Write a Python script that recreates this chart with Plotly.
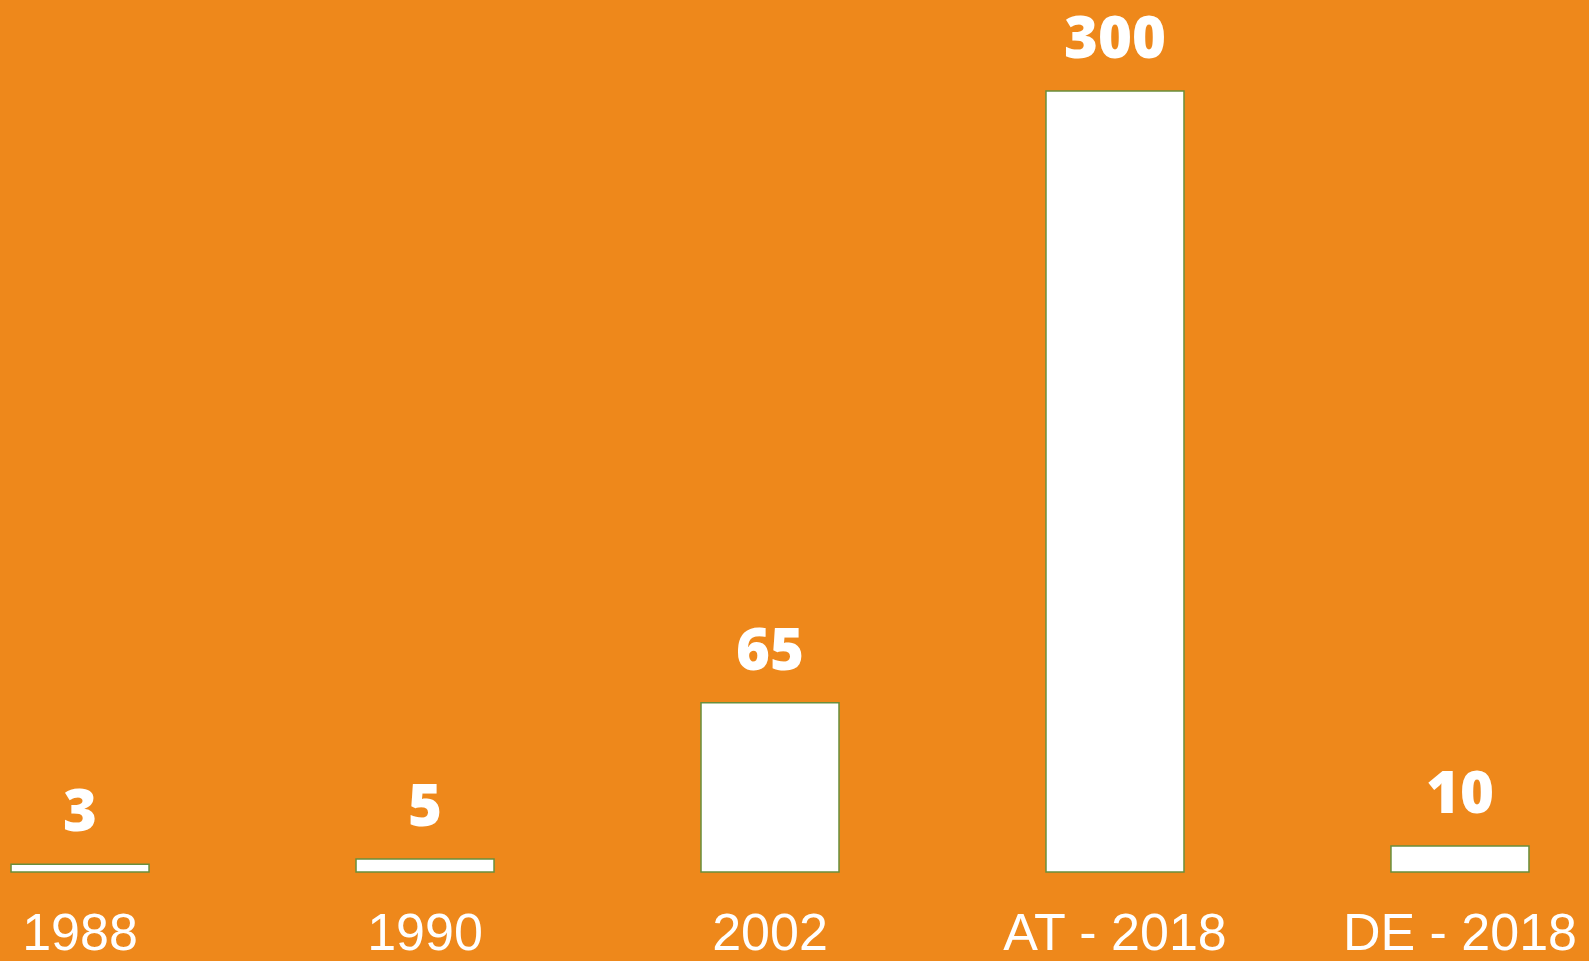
import plotly.graph_objects as go

categories = ["1988", "1990", "2002", "AT - 2018", "DE - 2018"]
values = [3, 5, 65, 300, 10]
value_labels = ["3", "5", "65", "300", "10"]

BG = "#EE881B"
OUTLINE = "#6A8F3C"

fig = go.Figure()
fig.add_trace(go.Bar(
    x=categories,
    y=values,
    width=0.4,
    marker=dict(color="white", line=dict(color=OUTLINE, width=1.5)),
    hoverinfo="skip",
    showlegend=False,
))

for i, (v, t) in enumerate(zip(values, value_labels)):
    fig.add_annotation(
        x=i, y=v, text=t, showarrow=False,
        xanchor="center", yanchor="bottom", yshift=16,
        borderpad=0, borderwidth=0,
        font=dict(family="Open Sans", size=58, color="white", weight=800),
    )

fig.update_layout(
    width=1589, height=961,
    margin=dict(l=0, r=0, t=0, b=88),
    paper_bgcolor=BG, plot_bgcolor=BG,
    xaxis=dict(
        type="category",
        range=[-0.232, 4.374],
        showgrid=False, zeroline=False, showline=False, ticks="",
        tickfont=dict(family="Liberation Sans", size=52, color="white"),
        ticklabelstandoff=24,
        automargin=False,
    ),
    yaxis=dict(
        range=[-0.4, 335],
        showgrid=False, zeroline=False, showline=False,
        showticklabels=False, ticks="",
    ),
)

fig.write_html(
    "out.html",
    config={"displayModeBar": False},
    post_script="document.body.style.margin='0';document.body.style.overflow='hidden';",
)
